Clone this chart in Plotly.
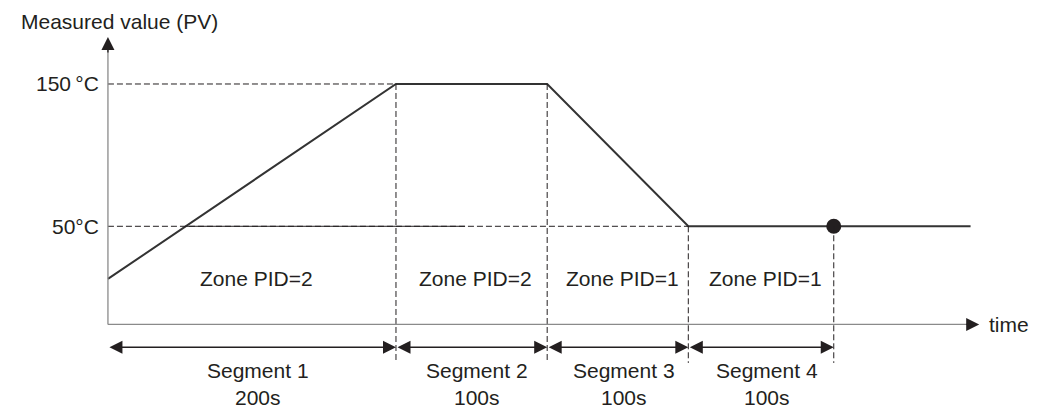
import plotly.graph_objects as go

# ── Data (schematic time in s, temperature in °C) ────────────────────────────
SEG_EDGES = [0, 200, 305, 403, 504]          # segment boundaries as drawn
SEG_NAMES = ["Segment 1", "Segment 2", "Segment 3", "Segment 4"]
SEG_DURATIONS = ["200s", "100s", "100s", "100s"]
ZONE_LABELS = ["Zone PID=2", "Zone PID=2", "Zone PID=1", "Zone PID=1"]

PV_TIME = [0, 200, 305, 403, 599]
PV_VALUE = [13, 150, 150, 50, 50]

LEVELS = [150, 50]
LEVEL_LABELS = ["150\u2009°C", "50°C"]

MARK_TIME = [504]
MARK_VALUE = [50]

# ── Style ────────────────────────────────────────────────────────────────────
FONT = "Liberation Sans, Arial, sans-serif"
INK = "#231f20"
AXIS_GREY = "#8a8a8a"
DASH = "6px,3px"

# the page body has an 8px margin, so the figure is 8px smaller and the
# ranges start 8px in
X_RANGE = [-69.4, 648.6]
Y_RANGE = [-78.4, 203.4]
AXIS_Y = -19          # where the time axis sits
AXIS_X = 0
Y_TIP = 183
X_TIP = 605
ARROW_Y = -35
GUIDE_BOTTOM = -46
ZONE_Y = 13
SEG_LABEL_Y = -61
SOLID_50 = [54, 248]  # solid stretch on the 50 °C guide


def main():
    fig = go.Figure()

    fig.add_trace(go.Scatter(
        x=PV_TIME, y=PV_VALUE, mode="lines",
        line=dict(color="#333333", width=2), hoverinfo="skip",
    ))
    fig.add_trace(go.Scatter(
        x=MARK_TIME, y=MARK_VALUE, mode="markers",
        marker=dict(color=INK, size=15), hoverinfo="skip",
    ))

    shapes = []
    # horizontal dashed guides
    shapes.append(dict(type="line", xref="x", yref="y", x0=AXIS_X, x1=SEG_EDGES[1],
                       y0=LEVELS[0], y1=LEVELS[0], line=dict(color=INK, width=1, dash=DASH)))
    shapes.append(dict(type="line", xref="x", yref="y", x0=AXIS_X, x1=SEG_EDGES[3],
                       y0=LEVELS[1], y1=LEVELS[1], line=dict(color=INK, width=1, dash=DASH)))
    shapes.append(dict(type="line", xref="x", yref="y", x0=SOLID_50[0], x1=SOLID_50[1],
                       y0=LEVELS[1], y1=LEVELS[1], line=dict(color=INK, width=1)))
    # vertical dashed guides at segment edges
    tops = [LEVELS[0], LEVELS[0], LEVELS[1], LEVELS[1]]
    for xe, top in zip(SEG_EDGES[1:], tops):
        shapes.append(dict(type="line", xref="x", yref="y", x0=xe, x1=xe,
                           y0=top, y1=GUIDE_BOTTOM, line=dict(color=INK, width=1, dash=DASH)))
    # axes
    shapes.append(dict(type="line", xref="x", yref="y", x0=AXIS_X, x1=AXIS_X,
                       y0=AXIS_Y, y1=Y_TIP - 5, line=dict(color=AXIS_GREY, width=1.3)))
    shapes.append(dict(type="line", xref="x", yref="y", x0=AXIS_X, x1=X_TIP - 5,
                       y0=AXIS_Y, y1=AXIS_Y, line=dict(color=AXIS_GREY, width=1.3)))

    ann = []
    txt = dict(family=FONT, size=21, color=INK)
    head = dict(showarrow=True, arrowhead=2, arrowsize=2, arrowwidth=1.3,
                arrowcolor=INK, axref="x", ayref="y", xref="x", yref="y", text="")
    # axis heads
    ann.append(dict(head, x=AXIS_X, y=Y_TIP, ax=AXIS_X, ay=Y_TIP - 12))
    ann.append(dict(head, x=X_TIP, y=AXIS_Y, ax=X_TIP - 10, ay=AXIS_Y))
    # segment arrows
    for i in range(len(SEG_NAMES)):
        x0, x1 = SEG_EDGES[i], SEG_EDGES[i + 1]
        ann.append(dict(head, x=x1, y=ARROW_Y, ax=x0, ay=ARROW_Y,
                        arrowside="end+start", startarrowhead=2, startarrowsize=2))
        mid = (x0 + x1) / 2
        ann.append(dict(x=mid + 3, y=ZONE_Y, xref="x", yref="y", text=ZONE_LABELS[i],
                        showarrow=False, font=txt))
        ann.append(dict(x=mid + 4, y=SEG_LABEL_Y, xref="x", yref="y",
                        text=SEG_NAMES[i] + "<br>" + SEG_DURATIONS[i],
                        showarrow=False, font=txt))
    # level labels
    for lv, lab in zip(LEVELS, LEVEL_LABELS):
        ann.append(dict(x=AXIS_X, y=lv, xref="x", yref="y", text=lab, showarrow=False,
                        xanchor="right", xshift=-7, font=txt))
    ann.append(dict(x=X_TIP, y=AXIS_Y, xref="x", yref="y", text="time", showarrow=False,
                    xanchor="left", xshift=8, font=txt))
    ann.append(dict(x=-62, y=Y_TIP + 11, xref="x", yref="y", text="Measured value (PV)",
                    showarrow=False, xanchor="left", yanchor="middle", font=txt))

    fig.update_layout(
        width=1034, height=401,
        margin=dict(l=0, r=0, t=0, b=0),
        paper_bgcolor="white", plot_bgcolor="white",
        showlegend=False,
        xaxis=dict(visible=False, range=X_RANGE, fixedrange=True),
        yaxis=dict(visible=False, range=Y_RANGE, fixedrange=True),
        shapes=shapes,
        annotations=ann,
        font=txt,
    )

    fig.write_html("out.html", config=dict(displayModeBar=False))


if __name__ == "__main__":
    main()
